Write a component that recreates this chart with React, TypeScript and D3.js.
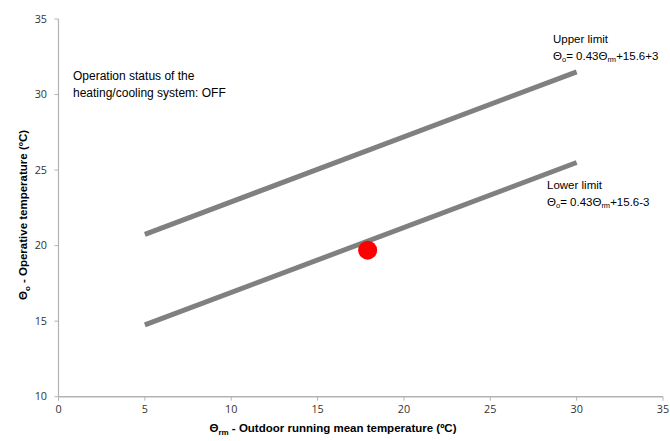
import React from "react";
import * as d3 from "d3";

const xTicks = [0, 5, 10, 15, 20, 25, 30, 35];
const yTicks = [10, 15, 20, 25, 30, 35];
const upperLine: [number, number][] = [[5, 20.75], [30, 31.5]];
const lowerLine: [number, number][] = [[5, 14.75], [30, 25.5]];
const point: [number, number] = [17.9, 19.7];

const W = 670, H = 441;
const tickFont = "Open Sans, Noto Sans, sans-serif";
const textFont = "Liberation Sans, Arial, sans-serif";

export default function App() {
  const x = d3.scaleLinear().domain([0, 35]).range([58.5, 663]);
  const y = d3.scaleLinear().domain([10, 35]).range([396.7, 19]);
  const line = d3.line<[number, number]>().x(d => x(d[0])).y(d => y(d[1]));
  const axisColor = "#b3b3b3";
  return (
    <div style={{ position: "absolute", left: 0, top: 0 }}>
      <svg width={W} height={H} style={{ display: "block", background: "#fff" }}>
        <line x1={x(0)} x2={x(0)} y1={y(35)} y2={y(10)} stroke={axisColor} strokeWidth={1.2} />
        <line x1={x(0)} x2={x(35)} y1={y(10)} y2={y(10)} stroke={axisColor} strokeWidth={1.6} />
        {yTicks.map(t => (
          <g key={"y" + t}>
            <line x1={x(0) - 4} x2={x(0)} y1={y(t)} y2={y(t)} stroke={axisColor} strokeWidth={1} />
            <text x={47} y={y(t)} dy="0.35em" textAnchor="end" fontFamily={tickFont} fontSize={10.8} fill="#333">{t}</text>
          </g>
        ))}
        {xTicks.map(t => (
          <g key={"x" + t}>
            <line x1={x(t)} x2={x(t)} y1={y(10)} y2={y(10) + 4} stroke={axisColor} strokeWidth={1} />
            <text x={x(t)} y={413} textAnchor="middle" fontFamily={tickFont} fontSize={10.8} fill="#333">{t}</text>
          </g>
        ))}
        <path d={line(upperLine) || ""} fill="none" stroke="#808080" strokeWidth={5} />
        <path d={line(lowerLine) || ""} fill="none" stroke="#808080" strokeWidth={5} />
        <circle cx={x(point[0])} cy={y(point[1])} r={9.5} fill="#ff0000" />
        <g fontFamily={textFont} fontSize={12} fill="#000">
          <text x={73} y={80}>Operation status of the</text>
          <text x={73} y={97}>heating/cooling system: OFF</text>
          <text x={553} y={43} fontSize={11.5}>Upper limit</text>
          <text x={553} y={60} fontSize={11.5}>
            Θ<tspan fontSize={7.5} dy={2}>o</tspan><tspan dy={-2}>= 0.43Θ</tspan><tspan fontSize={7.5} dy={2}>rm</tspan><tspan dy={-2}>+15.6+3</tspan>
          </text>
          <text x={547} y={189} fontSize={11.5}>Lower limit</text>
          <text x={547} y={206} fontSize={11.5}>
            Θ<tspan fontSize={7.5} dy={2}>o</tspan><tspan dy={-2}>= 0.43Θ</tspan><tspan fontSize={7.5} dy={2}>rm</tspan><tspan dy={-2}>+15.6-3</tspan>
          </text>
        </g>
        <text x={333} y={432} textAnchor="middle" fontFamily={textFont} fontSize={11.5} fontWeight="bold" fill="#000">
          Θ<tspan fontSize={8} dy={3}>rm</tspan><tspan dy={-3}> - Outdoor running mean temperature (ºC)</tspan>
        </text>
        <text transform={`translate(27,${215}) rotate(-90)`} textAnchor="middle" fontFamily={textFont} fontSize={11.5} fontWeight="bold" fill="#000">
          Θ<tspan fontSize={8} dy={3}>o</tspan><tspan dy={-3}> - Operative temperature (ºC)</tspan>
        </text>
      </svg>
    </div>
  );
}
